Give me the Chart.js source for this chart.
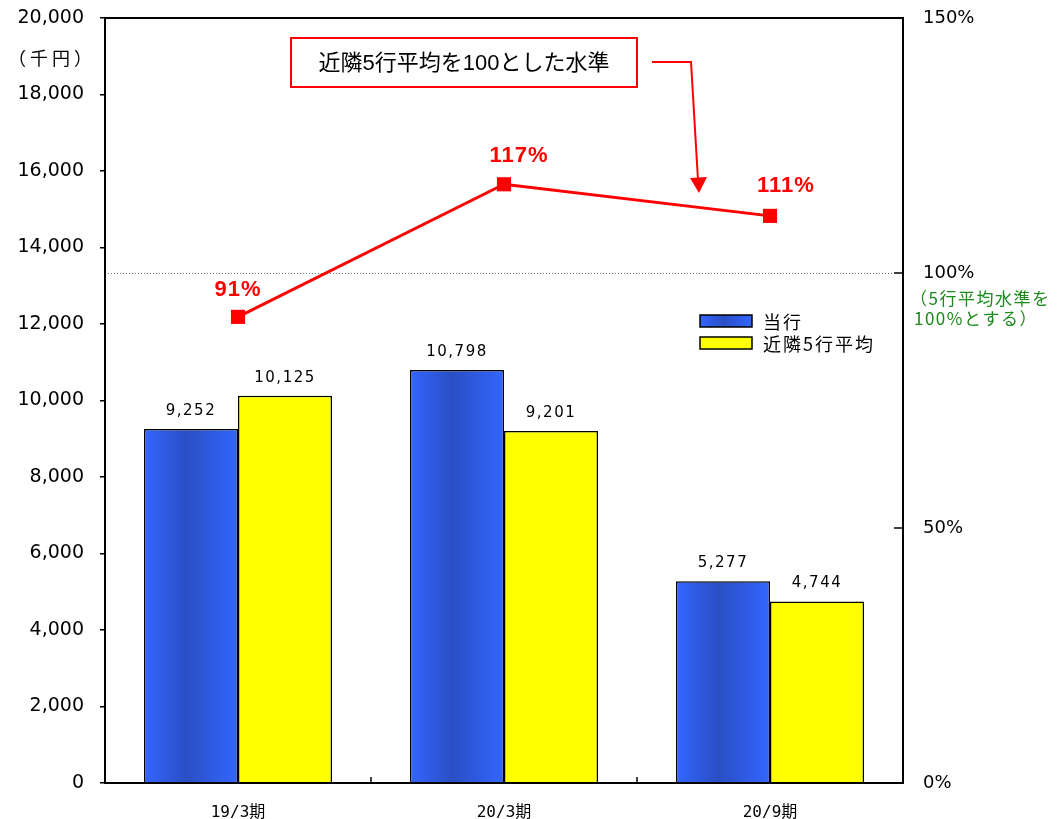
<!DOCTYPE html>
<html lang="ja">
<head>
<meta charset="utf-8">
<title>近隣5行平均比較</title>
<script src="https://cdn.jsdelivr.net/npm/chart.js@4/dist/chart.umd.min.js"></script>
<style>
  html, body { margin: 0; padding: 0; background: #fff; }
  #wrap { width: 1059px; height: 819px; }
</style>
</head>
<body>
<div id="wrap"><canvas id="chart" width="1059" height="819"></canvas></div>
<script>
const FONT = "'Liberation Sans', 'Noto Sans CJK JP', sans-serif";
const WIDE = "'DejaVu Sans', 'Noto Sans CJK JP', sans-serif";
const MONO = "'DejaVu Sans Mono', 'Noto Sans CJK JP', monospace";
const JP = "'Noto Sans CJK JP', sans-serif";

const periods = ['19/3期', '20/3期', '20/9期'];
const ownBank = [9252, 10798, 5277];        // 当行 (千円)
const nearAvg = [10125, 9201, 4744];        // 近隣5行平均 (千円)
const ratio = [91.4, 117.4, 111.2];         // 近隣5行平均を100とした水準 (%)
const leftTicks = [0, 2000, 4000, 6000, 8000, 10000, 12000, 14000, 16000, 18000, 20000];
const rightTicks = [0, 50, 100, 150];

const RED = '#ff0000';
const YELLOW = '#ffff00';

function blueGradient(ctx, x0, x1) {
  const g = ctx.createLinearGradient(x0, 0, x1, 0);
  g.addColorStop(0, '#3366ff');
  g.addColorStop(0.45, '#2a4fc4');
  g.addColorStop(1, '#3366ff');
  return g;
}

// gradient for each blue bar, computed from the x scale
function blueBar(c) {
  const chart = c.chart;
  const xs = chart.scales.x;
  if (!xs || !chart.chartArea) return '#3366ff';
  const cat = xs.width / periods.length;
  const bw = cat * 0.707 / 2;
  const cx = xs.getPixelForValue(c.dataIndex);
  return blueGradient(chart.ctx, cx - bw, cx);
}

const decor = {
  id: 'decor',
  beforeDatasetsDraw(chart) {
    const { ctx, chartArea: a } = chart;
    const y2 = chart.scales.y2;
    // 100% reference line
    ctx.save();
    ctx.strokeStyle = '#777';
    ctx.lineWidth = 1;
    ctx.setLineDash([1, 2]);
    const yy = Math.round(y2.getPixelForValue(100)) + 0.5;
    ctx.beginPath();
    ctx.moveTo(a.left, yy);
    ctx.lineTo(a.right - 10, yy);
    ctx.stroke();
    ctx.restore();
  },
  afterDatasetsDraw(chart) {
    const { ctx, chartArea: a } = chart;
    const xs = chart.scales.x, y2 = chart.scales.y2;
    ctx.save();

    // plot frame
    ctx.strokeStyle = '#000';
    ctx.lineWidth = 2;
    ctx.strokeRect(a.left, a.top, a.right - a.left, a.bottom - a.top);

    // inward ticks on the right axis
    ctx.lineWidth = 1.5;
    rightTicks.forEach(v => {
      const y = y2.getPixelForValue(v);
      ctx.beginPath();
      ctx.moveTo(a.right - 9, y);
      ctx.lineTo(a.right, y);
      ctx.stroke();
    });
    // inward category boundary ticks
    const cat = xs.width / periods.length;
    for (let i = 0; i < periods.length - 1; i++) {
      const x = xs.getPixelForValue(i) + cat / 2;
      ctx.beginPath();
      ctx.moveTo(x, a.bottom);
      ctx.lineTo(x, a.bottom - 6);
      ctx.stroke();
    }

    // bar value labels
    ctx.fillStyle = '#000';
    ctx.font = '15px ' + WIDE;
    ctx.textAlign = 'center';
    ctx.textBaseline = 'middle';
    ctx.letterSpacing = '1.5px';
    [0, 1].forEach(di => {
      chart.getDatasetMeta(di).data.forEach((bar, i) => {
        const v = chart.data.datasets[di].data[i];
        ctx.fillText(v.toLocaleString('en-US'), bar.x, bar.y - 18);
      });
    });

    // ratio labels
    ctx.fillStyle = RED;
    ctx.font = 'bold 22px ' + FONT;
    ctx.letterSpacing = '1px';
    const offs = [[0, -27], [15, -28], [16, -30]];
    chart.getDatasetMeta(2).data.forEach((pt, i) => {
      ctx.fillText(Math.round(ratio[i]) + '%', pt.x + offs[i][0], pt.y + offs[i][1]);
    });

    // legend
    const items = [
      { label: chart.data.datasets[0].label, fill: blueGradient(ctx, 700, 752) },
      { label: chart.data.datasets[1].label, fill: YELLOW }
    ];
    ctx.textAlign = 'left';
    ctx.font = '18px ' + JP;
    ctx.letterSpacing = '2px';
    items.forEach((it, k) => {
      const y = 321 + k * 22;
      ctx.fillStyle = it.fill;
      ctx.fillRect(700, y - 6, 52, 12);
      ctx.strokeStyle = '#000';
      ctx.lineWidth = 1.5;
      ctx.strokeRect(700, y - 6, 52, 12);
      ctx.fillStyle = '#000';
      ctx.fillText(it.label, 763, y + 1);
    });

    // note under 100%
    ctx.fillStyle = '#1a8a1a';
    ctx.font = '17px ' + JP;
    ctx.letterSpacing = '1.5px';
    ctx.fillText('（5行平均水準を', 910, 299);
    ctx.fillText('100%とする）', 914, 319);

    // unit label
    ctx.fillStyle = '#000';
    ctx.font = '18px ' + JP;
    ctx.letterSpacing = '4px';
    ctx.fillText('（千円）', 8, 58);
    ctx.letterSpacing = '0px';

    // callout box
    ctx.fillStyle = '#fff';
    ctx.fillRect(291, 38, 346, 49);
    ctx.strokeStyle = RED;
    ctx.lineWidth = 2;
    ctx.strokeRect(291, 38, 346, 49);
    ctx.fillStyle = '#000';
    ctx.font = '22px ' + FONT;
    ctx.textAlign = 'center';
    ctx.fillText('近隣5行平均を100とした水準', 464, 64);

    // arrow
    ctx.strokeStyle = RED;
    ctx.lineWidth = 2;
    ctx.beginPath();
    ctx.moveTo(652, 62);
    ctx.lineTo(691, 62);
    ctx.lineTo(698, 180);
    ctx.stroke();
    ctx.fillStyle = RED;
    ctx.beginPath();
    ctx.moveTo(690, 178);
    ctx.lineTo(707, 177);
    ctx.lineTo(699, 193);
    ctx.closePath();
    ctx.fill();

    ctx.restore();
  }
};

new Chart(document.getElementById('chart'), {
  data: {
    labels: periods,
    datasets: [
      {
        type: 'bar', label: '当行', data: ownBank, yAxisID: 'y',
        backgroundColor: blueBar, borderColor: '#000', borderWidth: 1.5,
        categoryPercentage: 0.707, barPercentage: 1.0, order: 2
      },
      {
        type: 'bar', label: '近隣5行平均', data: nearAvg, yAxisID: 'y',
        backgroundColor: YELLOW, borderColor: '#000', borderWidth: 1.5,
        categoryPercentage: 0.707, barPercentage: 1.0, order: 2
      },
      {
        type: 'line', label: '水準', data: ratio, yAxisID: 'y2',
        borderColor: RED, borderWidth: 3, backgroundColor: RED,
        pointStyle: 'rect', pointRadius: 10, pointBorderWidth: 0,
        tension: 0, order: 1
      }
    ]
  },
  options: {
    responsive: false,
    animation: false,
    layout: { padding: { top: 18, left: 0, right: 0, bottom: 0 } },
    plugins: { legend: { display: false }, tooltip: { enabled: false } },
    scales: {
      x: {
        grid: { display: false },
        border: { display: false },
        ticks: { color: '#000', font: { family: MONO, size: 16 }, padding: 12 },
        afterFit(s) { s.height = 36; }
      },
      y: {
        position: 'left', min: 0, max: 20000,
        afterBuildTicks(s) { s.ticks = leftTicks.map(v => ({ value: v })); },
        grid: { drawOnChartArea: false, tickLength: 5, color: '#000', lineWidth: 1.5 },
        border: { display: false },
        ticks: {
          color: '#000', padding: 16, font: { family: WIDE, size: 19 },
          callback: v => v.toLocaleString('en-US')
        },
        afterFit(s) { s.width = 105; s.paddingTop = 0; s.paddingBottom = 0; }
      },
      y2: {
        position: 'right', min: 0, max: 150,
        afterBuildTicks(s) { s.ticks = rightTicks.map(v => ({ value: v })); },
        grid: { display: false, drawTicks: false },
        border: { display: false },
        ticks: {
          color: '#000', padding: 20, font: { family: WIDE, size: 18 },
          callback: v => v + '%'
        },
        afterFit(s) { s.width = 156; s.paddingTop = 0; s.paddingBottom = 0; }
      }
    }
  },
  plugins: [decor]
});
</script>
</body>
</html>
